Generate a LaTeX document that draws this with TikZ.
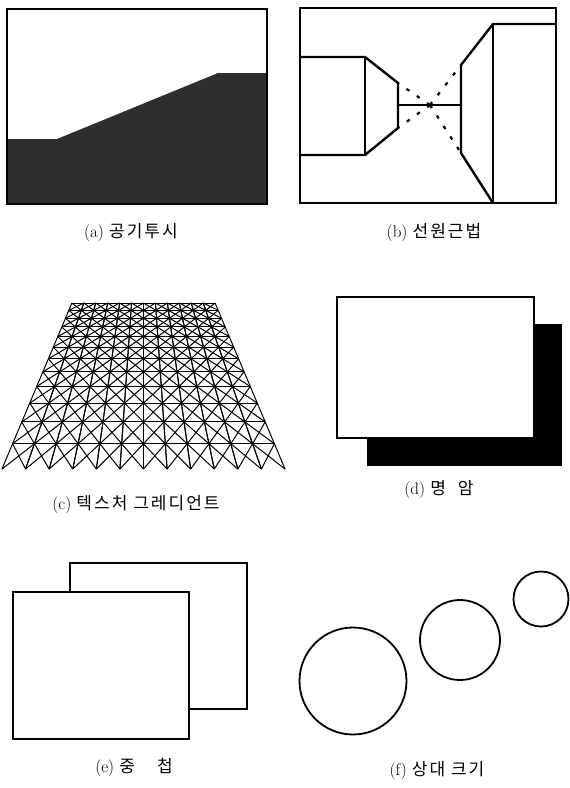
\documentclass[tikz,border=0pt]{standalone}
\usepackage{fontspec}
\usepackage{tikz}
\newfontfamily\kor[LetterSpace=12]{Noto Sans CJK KR}
\definecolor{HazeDark}{HTML}{2E2E2E}
\begin{document}
\begin{tikzpicture}[x=1pt,y=-1pt,line join=miter]
  \tikzstyle{figlabel}=[inner sep=0pt,font=\fontsize{17}{20}\selectfont]
  \tikzstyle{boxline}=[draw=black,line width=1.8pt]
  \tikzstyle{heavyline}=[draw=black,line width=2.4pt]
  \tikzstyle{gridline}=[draw=black,line width=1pt]
  \useasboundingbox (0,0) rectangle (570,788);
  % (a) aerial perspective
  \fill[HazeDark] (7,139) -- (57,139) -- (218,73) -- (267,73) -- (267,204) -- (7,204) -- cycle;
  \draw[boxline] (7,9) rectangle (267,204);
  \node[figlabel] (la) at (131,233) {(a) {\kor 공기투시}};
  % (b) linear perspective
  \draw[heavyline] (300,8) rectangle (556,203);
  \draw[heavyline] (300,57) -- (365,57) -- (398,83) -- (398,128) -- (365,155) -- (300,155);
  \draw[heavyline] (365,57) -- (365,155);
  \draw[heavyline] (556,24) -- (493,24) -- (461,65) -- (461,153) -- (493,203);
  \draw[heavyline] (493,24) -- (493,203);
  \draw[heavyline,line width=1.8pt] (398,105) -- (461,105);
  \coordinate (vp) at (430,105);
  \foreach \c in {(398,83),(398,128),(461,65),(461,153)}
    \draw[line width=2.2pt,dash pattern=on 3.5pt off 9pt] (vp) -- \c;
  \node[figlabel] (lb) at (434,233) {(b) {\kor 선원근법}};
  % (c) texture gradient, 12 x 12 cells in perspective
  \foreach \n in {0,...,11}
    \foreach \i in {0,...,11} {
      \pgfmathsetmacro\va{1000/(2.976+0.2422*\n)}
      \pgfmathsetmacro\vb{1000/(2.976+0.2422*(\n+1))}
      \pgfmathsetmacro\xa{143.5+(\i-6)*0.0702*\va}
      \pgfmathsetmacro\xb{143.5+(\i-5)*0.0702*\va}
      \pgfmathsetmacro\xc{143.5+(\i-6)*0.0702*\vb}
      \pgfmathsetmacro\xd{143.5+(\i-5)*0.0702*\vb}
      \draw[gridline] (\xa,{133+\va}) -- (\xd,{133+\vb});
      \draw[gridline] (\xb,{133+\va}) -- (\xc,{133+\vb});
      \draw[gridline] (\xc,{133+\vb}) -- (\xd,{133+\vb});
      \draw[gridline] (\xa,{133+\va}) -- (\xc,{133+\vb});
      \draw[gridline] (\xb,{133+\va}) -- (\xd,{133+\vb});
    }
  \node[figlabel] (lc) at (136,505) {(c) {\kor 텍스처 그레디언트}};
  % (d) light and shade
  \fill[black] (367,324) rectangle (562,466);
  \draw[boxline,fill=white] (337,297) rectangle (534,438);
  \node[figlabel] (ld) at (439,490) {(d) {\kor 명}\hspace{12pt}{\kor 암}};
  % (e) overlap
  \draw[boxline,fill=white] (70,563) rectangle (247,709);
  \draw[boxline,fill=white] (13,592) rectangle (189,739);
  \node[figlabel] (le) at (134,768) {(e) {\kor 중}\hspace{22pt}{\kor 첩}};
  % (f) relative size
  \draw[boxline] (353,681) circle (53.5);
  \draw[boxline] (460,640) circle (40);
  \draw[boxline] (541,599) circle (27.5);
  \node[figlabel] (lf) at (437,771) {(f) {\kor 상대 크기}};
\end{tikzpicture}
\end{document}
